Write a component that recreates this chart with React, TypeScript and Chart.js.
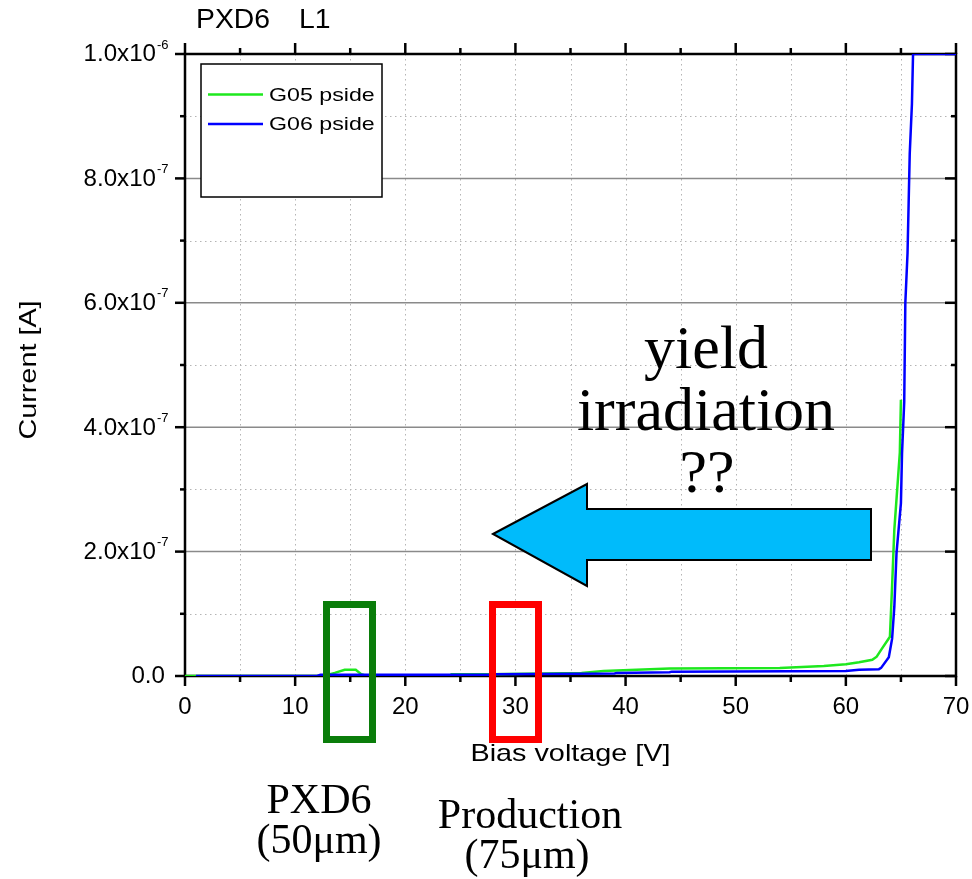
import { useEffect, useRef } from 'react';
import { Chart, registerables } from 'chart.js';
Chart.register(...registerables);

// ---- data (voltage in V, current in A) ----
const g05Voltage = [0, 1, 12, 13, 13.6, 14.5, 15.5, 16, 16.5, 24, 24.2, 27.7, 36, 38, 41, 44, 54, 58, 60, 61.2, 62.4, 62.8, 63.2, 64, 64.2, 64.4, 64.9, 65.0];
const g05Current = [0, 0, 0, 2e-9, 5e-9, 1e-8, 1e-8, 3e-9, 0, 0, 3e-9, 3e-9, 5e-9, 8e-9, 1e-8, 1.2e-8, 1.3e-8, 1.6e-8, 1.9e-8, 2.2e-8, 2.6e-8, 3.1e-8, 4.2e-8, 6.3e-8, 1.46e-7, 2.35e-7, 3.59e-7, 4.44e-7];
const g06Voltage = [1, 12, 12.3, 27.7, 28, 39, 39.2, 44, 44.2, 60, 61.2, 63, 63.2, 63.9, 64.2, 64.4, 64.6, 65.0, 65.1, 65.3, 65.4, 65.6, 65.7, 65.8, 66.0, 66.1, 70];
const g06Current = [0, 0, 2e-9, 2e-9, 3e-9, 4e-9, 5e-9, 6e-9, 7e-9, 8e-9, 1e-8, 1.1e-8, 1.3e-8, 3.0e-8, 6.0e-8, 1.11e-7, 1.98e-7, 2.78e-7, 3.58e-7, 4.41e-7, 6.0e-7, 6.8e-7, 7.6e-7, 8.4e-7, 9.2e-7, 1.0e-6, 1.0e-6];

const seriesNames = ['G05 pside', 'G06 pside'];
const seriesColors = ['#1ee81e', '#0000ff'];

const xTickValues = [0, 10, 20, 30, 40, 50, 60, 70];
const xMinorValues = [5, 15, 25, 35, 45, 55, 65];
const yTickValues = [0, 2e-7, 4e-7, 6e-7, 8e-7, 1e-6];
const yTickMantissa = ['0.0', '2.0', '4.0', '6.0', '8.0', '1.0'];
const yTickExponent = ['', '-7', '-7', '-7', '-7', '-6'];
const yMinorValues = [1e-7, 3e-7, 5e-7, 7e-7, 9e-7];

const SANS = '"Liberation Sans", Arial, sans-serif';
const SERIF = '"Liberation Serif", "Times New Roman", serif';

function txt(ctx: CanvasRenderingContext2D, s: string, x: number, y: number, font: string, align: CanvasTextAlign, sx = 1, baseline: CanvasTextBaseline = 'middle', color = '#000') {
  ctx.save();
  ctx.font = font;
  ctx.fillStyle = color;
  ctx.textAlign = align;
  ctx.textBaseline = baseline;
  ctx.translate(x, y);
  ctx.scale(sx, 1);
  ctx.fillText(s, 0, 0);
  ctx.restore();
}

const framePlugin = {
  id: 'frame',
  beforeDatasetsDraw(chart: any) {
    const ctx: CanvasRenderingContext2D = chart.ctx;
    const { left, right, top, bottom } = chart.chartArea;
    const xs = chart.scales.x;
    const ys = chart.scales.y;
    ctx.save();
    // dotted grid
    ctx.strokeStyle = '#b4b4b4';
    ctx.lineWidth = 1;
    ctx.setLineDash([1.5, 3.5]);
    [...xTickValues.slice(1, -1), ...xMinorValues].forEach((v) => {
      const px = Math.round(xs.getPixelForValue(v)) + 0.5;
      ctx.beginPath(); ctx.moveTo(px, top); ctx.lineTo(px, bottom); ctx.stroke();
    });
    yMinorValues.forEach((v) => {
      const py = Math.round(ys.getPixelForValue(v)) + 0.5;
      ctx.beginPath(); ctx.moveTo(left, py); ctx.lineTo(right, py); ctx.stroke();
    });
    // solid major horizontal grid
    ctx.setLineDash([]);
    ctx.strokeStyle = '#8a8a8a';
    ctx.lineWidth = 1.5;
    yTickValues.slice(1, -1).forEach((v) => {
      const py = ys.getPixelForValue(v);
      ctx.beginPath(); ctx.moveTo(left, py); ctx.lineTo(right, py); ctx.stroke();
    });
    // frame
    ctx.strokeStyle = '#000';
    ctx.lineWidth = 2.5;
    ctx.strokeRect(left, top, right - left, bottom - top);
    // ticks
    ctx.lineWidth = 2.5;
    const tick = (x1: number, y1: number, x2: number, y2: number) => { ctx.beginPath(); ctx.moveTo(x1, y1); ctx.lineTo(x2, y2); ctx.stroke(); };
    xTickValues.forEach((v) => {
      const px = xs.getPixelForValue(v);
      tick(px, bottom, px, bottom + 10);
      tick(px, top, px, top - 11);
    });
    xMinorValues.forEach((v) => {
      const px = xs.getPixelForValue(v);
      tick(px, bottom, px, bottom + 6);
      tick(px, top, px, top - 6);
    });
    yTickValues.forEach((v) => {
      const py = ys.getPixelForValue(v);
      tick(left, py, left - 10, py);
      tick(right, py, right - 11, py);
    });
    yMinorValues.forEach((v) => {
      const py = ys.getPixelForValue(v);
      tick(left, py, left - 5, py);
      tick(right, py, right - 5, py);
    });
    ctx.restore();
  },
  afterDraw(chart: any) {
    const ctx: CanvasRenderingContext2D = chart.ctx;
    const { left, right, bottom } = chart.chartArea;
    const xs = chart.scales.x;
    const ys = chart.scales.y;
    // tick labels
    xTickValues.forEach((v) => {
      txt(ctx, String(v), xs.getPixelForValue(v), bottom + 31, `24px ${SANS}`, 'center');
    });
    yTickValues.forEach((v, i) => {
      const py = ys.getPixelForValue(v) + 1;
      if (yTickExponent[i]) {
        txt(ctx, yTickMantissa[i] + 'x10', 156, py, `23px ${SANS}`, 'right', 1.05);
        txt(ctx, yTickExponent[i], 157, py - 10, `13px ${SANS}`, 'left');
      } else {
        txt(ctx, yTickMantissa[i], 165, py, `23px ${SANS}`, 'right', 1.05);
      }
    });
    // axis titles
    txt(ctx, 'Bias voltage [V]', (left + right) / 2, 754, `24px ${SANS}`, 'center', 1.2);
    ctx.save();
    ctx.translate(29, 370);
    ctx.rotate(-Math.PI / 2);
    txt(ctx, 'Current [A]', 0, 0, `24px ${SANS}`, 'center', 1.2);
    ctx.restore();
    // title
    txt(ctx, 'PXD6', 196, 21, `27px ${SANS}`, 'left', 1.05);
    txt(ctx, 'L1', 299, 21, `27px ${SANS}`, 'left', 1.05);
    // legend
    ctx.save();
    ctx.fillStyle = '#fff';
    ctx.fillRect(201, 64, 181, 133);
    ctx.strokeStyle = '#000';
    ctx.lineWidth = 1.5;
    ctx.strokeRect(201, 64, 181, 133);
    ctx.lineWidth = 2.5;
    [94.5, 124].forEach((y, i) => {
      ctx.strokeStyle = seriesColors[i];
      ctx.beginPath(); ctx.moveTo(208, y); ctx.lineTo(263, y); ctx.stroke();
      txt(ctx, seriesNames[i], 269, y + 1, `19px ${SANS}`, 'left', 1.22);
    });
    ctx.restore();
    // annotation boxes
    ctx.save();
    ctx.lineWidth = 7;
    ctx.strokeStyle = '#0a7d0a';
    ctx.strokeRect(326.5, 604.5, 46, 135);
    ctx.strokeStyle = '#ff0000';
    ctx.strokeRect(492.5, 604.5, 46, 135);
    // arrow
    ctx.beginPath();
    ctx.moveTo(493, 534);
    ctx.lineTo(587, 484);
    ctx.lineTo(587, 509);
    ctx.lineTo(871, 509);
    ctx.lineTo(871, 560);
    ctx.lineTo(587, 560);
    ctx.lineTo(587, 586);
    ctx.closePath();
    ctx.fillStyle = '#00bbfb';
    ctx.fill();
    ctx.lineWidth = 2;
    ctx.strokeStyle = '#000';
    ctx.lineJoin = 'miter';
    ctx.stroke();
    ctx.restore();
    // annotation texts
    txt(ctx, 'yield', 706, 368, `62px ${SERIF}`, 'center', 1, 'alphabetic');
    txt(ctx, 'irradiation', 706, 430, `62px ${SERIF}`, 'center', 1, 'alphabetic');
    txt(ctx, '??', 707, 492, `62px ${SERIF}`, 'center', 1, 'alphabetic');
    txt(ctx, 'PXD6', 319, 813, `42px ${SERIF}`, 'center', 1, 'alphabetic');
    txt(ctx, '(50μm)', 319, 853, `42px ${SERIF}`, 'center', 1, 'alphabetic');
    txt(ctx, 'Production', 530, 828, `42px ${SERIF}`, 'center', 1, 'alphabetic');
    txt(ctx, '(75μm)', 527, 868, `42px ${SERIF}`, 'center', 1, 'alphabetic');
  },
};

export default function App() {
  const ref = useRef<HTMLCanvasElement | null>(null);
  useEffect(() => {
    document.body.style.margin = '0';
    const canvas = ref.current;
    if (!canvas) return;
    const chart = new Chart(canvas, {
      type: 'line',
      data: {
        datasets: [
          {
            label: seriesNames[0],
            data: g05Voltage.map((v, i) => ({ x: v, y: g05Current[i] })),
            borderColor: seriesColors[0],
            borderWidth: 2.5,
            pointRadius: 0,
            tension: 0,
            fill: false,
            order: 1,
          },
          {
            label: seriesNames[1],
            data: g06Voltage.map((v, i) => ({ x: v, y: g06Current[i] })),
            borderColor: seriesColors[1],
            borderWidth: 2.5,
            pointRadius: 0,
            tension: 0,
            fill: false,
            order: 0,
          },
        ],
      },
      options: {
        animation: false,
        responsive: false,
        devicePixelRatio: 1,
        layout: { padding: { left: 185, right: 16, top: 54, bottom: 203 } },
        scales: {
          x: { type: 'linear', min: 0, max: 70, display: false },
          y: { type: 'linear', min: 0, max: 1e-6, display: false },
        },
        plugins: { legend: { display: false }, tooltip: { enabled: false } },
        events: [],
      },
      plugins: [framePlugin],
    } as any);
    return () => chart.destroy();
  }, []);
  return (
    <div style={{ width: 972, height: 879, background: '#fff' }}>
      <canvas ref={ref} width={972} height={879} style={{ display: 'block' }} />
    </div>
  );
}
